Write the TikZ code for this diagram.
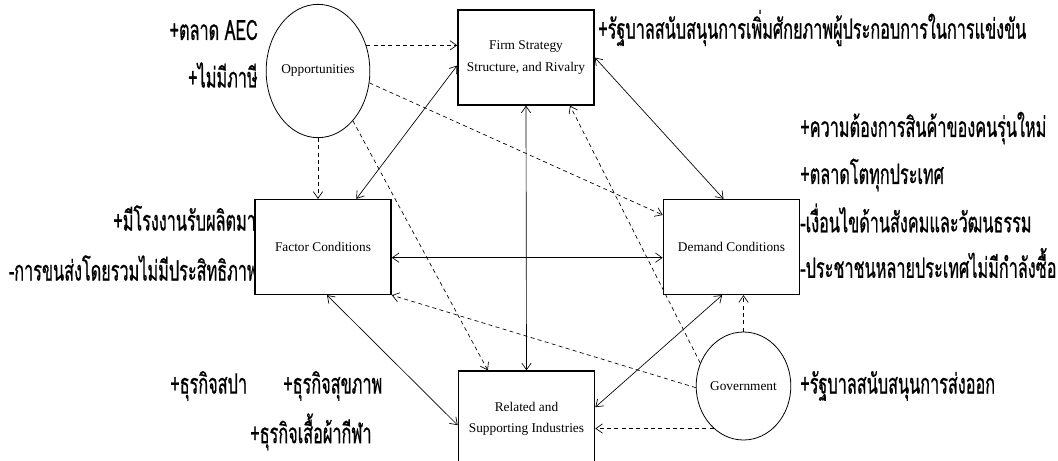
\documentclass[tikz,border=0pt]{standalone}
\usepackage{fontspec}
\setmainfont{Liberation Serif}
\newfontfamily\thaifont[Script=Thai,FakeStretch=0.58,FakeBold=0.6]{Loma}
\usetikzlibrary{arrows.meta,shapes.geometric}

\tikzset{
  factorbox/.style={draw,line width=1.2pt,fill=white,minimum width=102pt,minimum height=71pt,align=center,font=\fontsize{10}{16}\selectfont},
  chance/.style={draw,ellipse,line width=0.6pt,fill=white,inner sep=0pt,font=\fontsize{10}{12}\selectfont},
  thai/.style={font=\thaifont\fontsize{21}{24}\selectfont,inner sep=0pt},
  link/.style={<->,line width=0.5pt},
  effect/.style={->,line width=0.5pt,dash pattern=on 3pt off 2.5pt},
}

\begin{document}
\begin{tikzpicture}[x=0.75pt,y=-0.75pt,>={Straight Barb[length=5pt,width=7pt]}]
            \useasboundingbox (0,0) rectangle (1058,461);

            % side notes
            \node[thai,anchor=east] (aec) at (258,30) {+ตลาด AEC};
            \node[thai,anchor=east] (notax) at (258,75) {+ไม่มีภาษี};
            \node[thai,anchor=west] (support) at (598,28) {+รัฐบาลสนับสนุนการเพิ่มศักยภาพผู้ประกอบการในการแข่งขัน};
            \node[thai,anchor=west] (newgen) at (800,128) {+ความต้องการสินค้าของคนรุ่นใหม่};
            \node[thai,anchor=west] (grow) at (800,175) {+ตลาดโตทุกประเทศ};
            \node[thai,anchor=west] (social) at (800,218) {-เงื่อนไขด้านสังคมและวัฒนธรรม};
            \node[thai,anchor=west] (power) at (800,263) {-ประชาชนหลายประเทศไม่มีกำลังซื้อ};
            \node[thai,anchor=east] (plant) at (266,218) {+มีโรงงานรับผลิตมาก};
            \node[thai,anchor=east] (transport) at (258,268) {-การขนส่งโดยรวมไม่มีประสิทธิภาพ};
            \node[thai,anchor=west] (spa) at (170,386) {+ธุรกิจสปา};
            \node[thai,anchor=west] (health) at (283,386) {+ธุรกิจสุขภาพ};
            \node[thai,anchor=west] (sport) at (250,432) {+ธุรกิจเสื้อผ้ากีฬา};
            \node[thai,anchor=west] (export) at (800,386) {+รัฐบาลสนับสนุนการส่งออก};

            % diamond
            \node[factorbox] (firm) at (526,57.5) {Firm Strategy\\Structure, and Rivalry};
            \node[factorbox] (factor) at (323,247) {Factor Conditions};
            \node[factorbox] (demand) at (731.5,247) {Demand Conditions};
            \node[factorbox] (related) at (526.5,418.5) {Related and\\Supporting Industries};

            \node[chance,minimum width=73.5pt,minimum height=100pt] (opp) at (318,71) {Opportunities};
            \node[chance,minimum width=71pt,minimum height=81pt] (gov) at (743.5,386) {Government};

            \draw[link] ([yshift=-6pt]firm.west) -- ([xshift=25pt]factor.north);
            \draw[link] (firm.east) -- ([xshift=-6pt]demand.north);
            \draw[link] (firm.south) -- (related.north);
            \draw[link] ([yshift=-8pt]factor.east) -- ([yshift=-8pt]demand.west);
            \draw[link] ([xshift=3pt]factor.south) -- ([yshift=-5pt]related.west);
            \draw[link] ([xshift=-7pt]demand.south) -- ([yshift=8.5pt]related.east);

            \draw[effect] (opp.28) -- (opp.28 -| firm.west);
            \draw[effect] (opp.-13) -- ([yshift=24pt]demand.west);
            \draw[effect] (opp.south) -- (opp.south |- factor.north);
            \draw[effect] (opp.-55) -- ([xshift=-29pt]related.north);

            \draw[effect] (gov.north) -- (gov.north |- demand.south);
            \draw[effect] (gov.182) -- (factor.south east);
            \draw[effect] (gov.235) -- (gov.235 -| related.east);
            \draw[effect] (gov.152) -- ([xshift=33pt]firm.south);
        \end{tikzpicture}
\end{document}
